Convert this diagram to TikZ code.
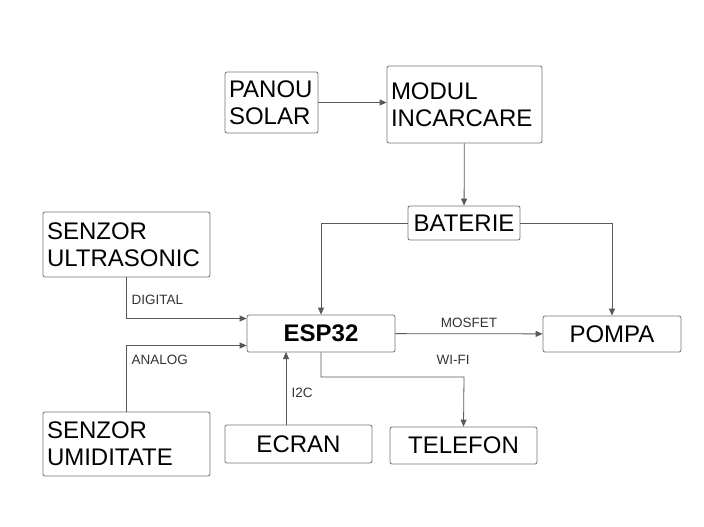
\documentclass[tikz,border=0pt]{standalone}
\usepackage{fontspec}
\setmainfont{Liberation Sans}
\usetikzlibrary{arrows.meta}
\begin{document}
\begin{tikzpicture}[x=1pt, y=-1pt,
  box/.style={draw=black!55, rounded corners=2pt, line width=0.8pt, align=center,
    inner sep=0pt, font=\fontsize{24}{27}\selectfont},
  multi/.style={align=left, text width=#1},
  link/.style={draw=black!65, line width=0.8pt, -{Triangle[length=7pt,width=6pt]}},
  lbl/.style={font=\fontsize{13.5}{15}\selectfont, text=black!80, anchor=west}]

     \useasboundingbox (0,0) rectangle (704,527);

     \node (solar) at (271.5, 102.5) [box, multi=85pt, minimum width=93pt, minimum height=61pt] {PANOU\\SOLAR};
     \node (modul) at (464.5, 104.5) [box, multi=147pt, minimum width=155pt, minimum height=77pt] {MODUL\\INCARCARE};
     \node (bat) at (464, 223) [box, minimum width=112pt, minimum height=34pt] {BATERIE};
     \node (ultra) at (126.5, 244.5) [box, multi=159pt, minimum width=167pt, minimum height=65pt] {SENZOR\\ULTRASONIC};
     \node (esp) at (321, 333.5) [box, minimum width=148pt, minimum height=37pt, font=\fontsize{24}{27}\selectfont\bfseries] {ESP32};
     \node (pompa) at (612, 334) [box, minimum width=138pt, minimum height=36pt] {POMPA};
     \node (umid) at (126.5, 444) [box, multi=159pt, minimum width=167pt, minimum height=64pt] {SENZOR\\UMIDITATE};
     \node (ecran) at (298.5, 444) [box, minimum width=147pt, minimum height=38pt] {ECRAN};
     \node (tel) at (463.5, 445.5) [box, minimum width=147pt, minimum height=37pt] {TELEFON};

     \draw [link] (solar) -- (modul.west |- solar);
     \draw [link] (modul) -- (bat);
     \draw [link] (bat.west) -| (esp.north);
     \draw [link] (bat.east) -| (pompa.north);
     \draw [link] (ultra.south) |- ([yshift=15pt]esp.west);
     \draw [link] (umid.north) |- ([yshift=-12pt]esp.west);
     \draw [link] (esp) -- node [lbl, above, yshift=2pt] {MOSFET} (pompa);
     \draw [link] (esp.south) |- (464, 377) -- (tel.north);
     \draw [link] (286, 425) -- (286, 352);

     \node (ldig) at (128, 300) [lbl] {DIGITAL};
     \node (lana) at (128, 360) [lbl] {ANALOG};
     \node (lwifi) at (433, 360) [lbl] {WI-FI};
     \node (li2c) at (288, 393) [lbl] {I2C};

\end{tikzpicture}
\end{document}
